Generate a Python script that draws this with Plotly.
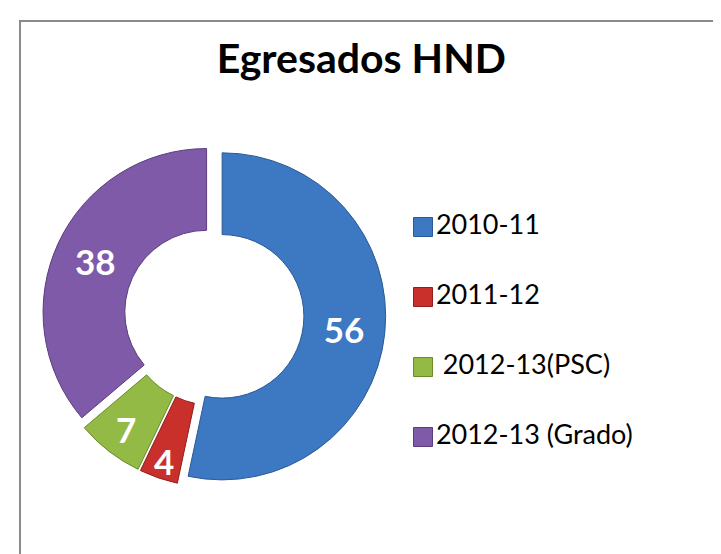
import plotly.graph_objects as go

categories = ["2010-11", "2011-12", " 2012-13(PSC)", "2012-13 (Grado)"]
values = [56, 4, 7, 38]
colors = ["#3D78C2", "#C9302C", "#93BA45", "#7E5AA8"]
edge_colors = ["#2A5A96", "#8E1F1C", "#6A8A2C", "#5A3D7E"]
title_text = "Egresados HND"
legend_rows = [0, 1, 2, 3]

W, H = 721, 554

fig = go.Figure()

fig.add_trace(go.Pie(
    labels=categories,
    values=values,
    sort=False,
    direction="clockwise",
    rotation=0,
    hole=0.5,
    pull=[0.05] * len(values),
    marker=dict(colors=colors, line=dict(color=edge_colors, width=1)),
    textinfo="value",
    textposition="inside",
    insidetextorientation="horizontal",
    textfont=dict(family="Lato", size=35, color="white", weight="bold"),
    domain=dict(x=[34.3 / W, 377.7 / W], y=[1 - 479.2 / H, 1 - 135.8 / H]),
    showlegend=False,
    hoverinfo="label+value",
))

# legend drawn as a scatter on hidden axes
fig.add_trace(go.Scatter(
    x=[3] * len(categories),
    y=legend_rows,
    mode="markers+text",
    marker=dict(symbol="square", size=19, color=colors,
                line=dict(color=edge_colors, width=1)),
    text=categories,
    textposition="middle right",
    textfont=dict(family="Lato", size=27, color="#000000"),
    showlegend=False,
    hoverinfo="skip",
    cliponaxis=False,
))

fig.update_layout(
    width=W, height=H,
    margin=dict(l=0, r=0, t=0, b=0),
    paper_bgcolor="white",
    plot_bgcolor="rgba(0,0,0,0)",
    title=dict(text=title_text, x=0.49, xanchor="center",
               y=1 - 51 / H, yanchor="middle", yref="container",
               font=dict(family="Lato", size=41, color="#000000", weight="bold")),
    xaxis=dict(domain=[412 / W, 712 / W], range=[0, 300], visible=False),
    yaxis=dict(domain=[1 - 464 / H, 1 - 184 / H], range=[3.5, -0.5], visible=False),
    uniformtext=dict(minsize=35, mode="show"),
    shapes=[dict(type="rect", xref="paper", yref="paper",
                 x0=12 / W, x1=1.05, y0=-0.05, y1=1 - 13 / H,
                 line=dict(color="#8A8A8A", width=2), fillcolor="rgba(0,0,0,0)",
                 layer="below")],
)

fig.write_html("out.html")
